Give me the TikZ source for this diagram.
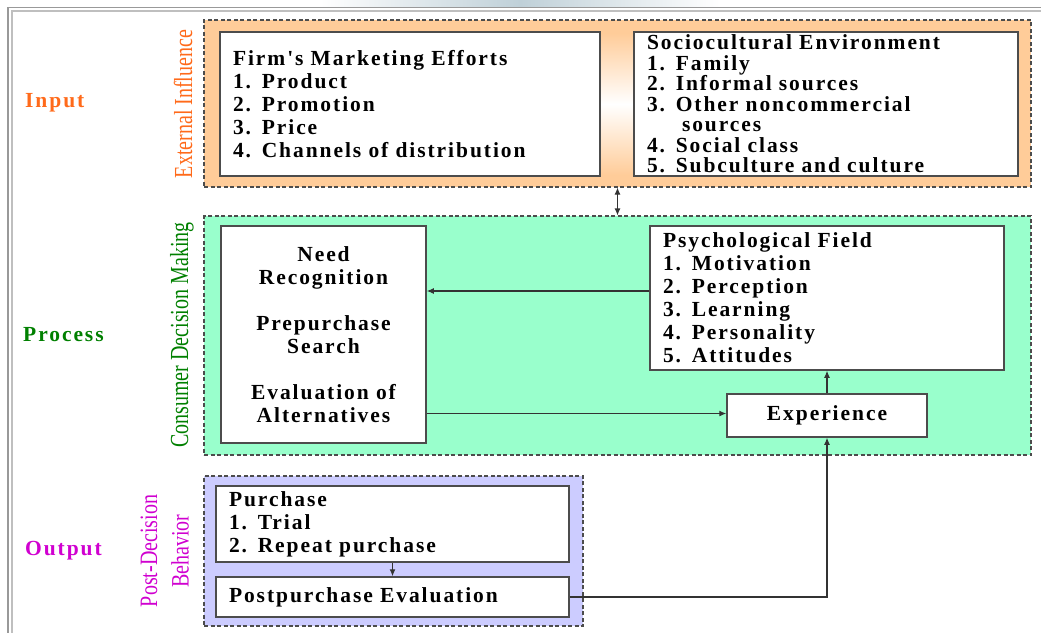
\documentclass[tikz,border=0pt]{standalone}
\usepackage{fontspec}
\setmainfont{Liberation Serif}
\newfontfamily\boxfont{Liberation Serif}[LetterSpace=9]
\usetikzlibrary{arrows.meta}
\definecolor{orng}{HTML}{FFCC99}
\definecolor{grn}{HTML}{99FFCC}
\definecolor{prpl}{HTML}{CCCCFF}
\definecolor{inorange}{HTML}{FF6A1A}
\definecolor{procgreen}{HTML}{008000}
\definecolor{outmag}{HTML}{D000D0}
\definecolor{bandgray}{HTML}{BFD0D8}
\tikzset{
  grp/.style={draw=black!70, dashed, dash pattern=on 4pt off 2.5pt, line width=1.1pt, inner sep=0pt},
  bx/.style={draw=black!70, line width=1.5pt, fill=white, inner xsep=13pt, inner ysep=0pt,
    font=\boxfont\bfseries\fontsize{21.5}{23}\selectfont},
  sidelbl/.style={font=\boxfont\bfseries\fontsize{21.5}{23}\selectfont, anchor=west, inner sep=0pt},
  rotlbl/.style={rotate=90, inner sep=0pt, font=\fontsize{20}{24}\selectfont},
  arr/.style={draw=black!80, line width=1.1pt, -{Latex[length=7pt,width=6pt]}},
}
\begin{document}
\begin{tikzpicture}[x=1pt,y=-1pt]
\useasboundingbox (0,0) rectangle (1041,632);
\fill[white] (0,0) rectangle (1041,632);
\begin{scope}
\clip (0,0) rectangle (1041,632);
\shade[left color=white, right color=white, middle color=bandgray] (320,0) rectangle (720,7);
\draw[gray!80, line width=1.6pt] (8,640) -- (8,7.5) -- (1050,7.5);
\draw[gray!50, line width=1.2pt] (12,640) -- (12,11) -- (1050,11);
\end{scope}

% group boxes
\node[grp, fill=orng, minimum width=827, minimum height=167] (ext) at (617.5,103.5) {};
\shade[top color=orng, bottom color=orng, middle color=white] (600,33) rectangle (634,175);
\node[grp, fill=grn, minimum width=827, minimum height=239] (cdm) at (617.5,335.5) {};
\node[grp, fill=prpl, minimum width=379, minimum height=150] (pdb) at (393.5,551) {};

% side labels
\node[sidelbl, text=inorange] (inp) at (25,103) {Input};
\node[sidelbl, text=procgreen] (proc) at (23,335) {Process};
\node[sidelbl, text=outmag] (outp) at (25,551) {Output};

\node[rotlbl, text=inorange] (extlbl) at (183,104) {\scalebox{1}[1.3]{External Influence}};
\node[rotlbl, text=procgreen] (cdmlbl) at (182,335) {\scalebox{1}[1.3]{Consumer Decision Making}};
\node[rotlbl, text=outmag] (pdlbl1) at (149,551) {\scalebox{1}[1.25]{Post-Decision}};
\node[rotlbl, text=outmag] (pdlbl2) at (180,551) {\scalebox{1}[1.25]{Behavior}};

% boxes
\node[bx, minimum width=380, minimum height=144, text width=354, align=left] (firm) at (410,104)
  {Firm's Marketing Efforts\\1. Product\\2. Promotion\\3. Price\\4. Channels of distribution};
\node[bx, minimum width=384, minimum height=144, text width=358, align=left,
  font=\boxfont\bfseries\fontsize{21.5}{20.5}\selectfont] (socio) at (826,104)
  {Sociocultural Environment\\1. Family\\2. Informal sources\\3. Other noncommercial\\\hspace*{35pt}sources\\4. Social class\\5. Subculture and culture};
\node[bx, minimum width=205, minimum height=217, text width=179, align=center] (need) at (323.5,334.5)
  {Need\\Recognition\\[23pt]Prepurchase\\Search\\[23pt]Evaluation of\\Alternatives};
\node[bx, minimum width=354, minimum height=144, text width=328, align=left] (psych) at (827,298)
  {Psychological Field\\1. Motivation\\2. Perception\\3. Learning\\4. Personality\\5. Attitudes};
\node[bx, minimum width=200, minimum height=43, align=center] (exp) at (827,415.5) {Experience};
\node[bx, minimum width=353, minimum height=76, text width=327, align=left] (purch) at (392.5,524)
  {Purchase\\1. Trial\\2. Repeat purchase};
\node[bx, minimum width=353, minimum height=40, text width=327, align=left] (post) at (392.5,597)
  {Postpurchase Evaluation};

% connectors
\draw[arr, {Latex[length=7pt,width=6pt]}-{Latex[length=7pt,width=6pt]}] (ext.south) -- (cdm.north);
\draw[arr] ([yshift=7pt]psych.west) -- ([yshift=7pt]psych.west -| need.east);
\draw[arr] ([yshift=2pt]exp.west -| need.east) -- ([yshift=2pt]exp.west);
\draw[arr] (exp.north) -- (psych.south);
\draw[arr] (purch.south) -- (post.north);
\draw[arr] (post.east) -| (exp.south);
\end{tikzpicture}
\end{document}
